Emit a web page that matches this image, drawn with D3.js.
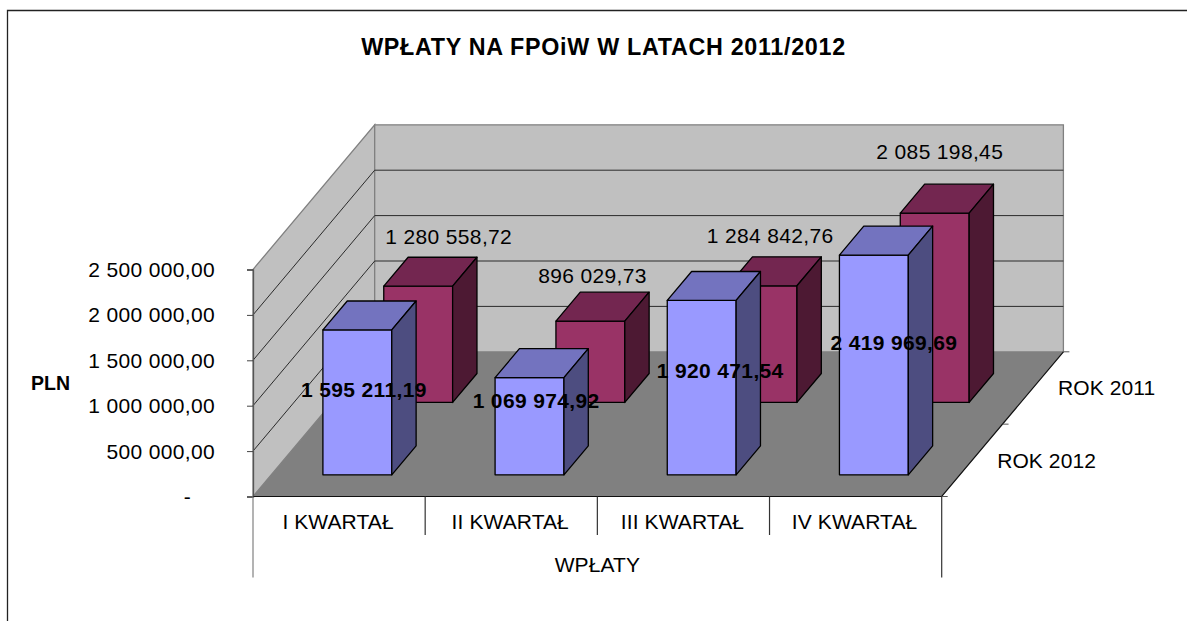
<!DOCTYPE html>
<html>
<head>
<meta charset="utf-8">
<script src="https://cdn.jsdelivr.net/npm/d3@7"></script>
<style>
  html, body { margin: 0; padding: 0; background: #fff; }
  svg { display: block; }
  text { font-family: "Liberation Sans", Arial, sans-serif; fill: #000; }
</style>
</head>
<body>
<svg id="viz-container" width="1187" height="621"></svg>
<script>
var quarters = ["I KWARTAŁ", "II KWARTAŁ", "III KWARTAŁ", "IV KWARTAŁ"];
var years = ["ROK 2012", "ROK 2011"];
var values2012 = [1595211.19, 1069974.92, 1920471.54, 2419969.69];
var values2011 = [1280558.72, 896029.73, 1284842.76, 2085198.45];
var yTicks = [0, 500000, 1000000, 1500000, 2000000, 2500000];

var svg = d3.select("#viz-container");

// floor corner, plot size and how far the depth axis runs
var x0 = 253, y0 = 496.5, plotW = 688.7, plotH = 227, depthX = 121.7, depthY = 144.7;

var x = d3.scaleBand().domain(quarters).range([0, plotW]).paddingInner(0.6).paddingOuter(0.3);
var y = d3.scaleLinear().domain([0, 2500000]).range([0, plotH]);
var z = d3.scaleBand().domain(years).range([0, 1]).paddingInner(0.6).paddingOuter(0.3);

var fmt = d3.formatLocale({decimal: ",", thousands: " ", grouping: [3], currency: ["", ""]}).format(",.2f");

// px along x, value height in px, depth 0..1
function pt(px, py, d) {
  return [x0 + px + d * depthX, y0 - py - d * depthY];
}
function poly(points) {
  return "M" + points.map(function(p) { return p.join(","); }).join("L") + "Z";
}

// outer chart border, runs off the page on the right and bottom
svg.append("path")
  .attr("d", "M7.5,640V10.5H1200")
  .attr("fill", "none")
  .attr("stroke", "#222")
  .attr("stroke-width", 1.3);

// walls and floor
var walls = svg.append("g").attr("id", "walls");
walls.append("path")
  .attr("d", poly([pt(0, 0, 0), pt(0, plotH, 0), pt(0, plotH, 1), pt(0, 0, 1)]))
  .attr("fill", "#c0c0c0").attr("stroke", "#808080").attr("stroke-width", 1.3);
walls.append("path")
  .attr("d", poly([pt(0, 0, 1), pt(0, plotH, 1), pt(plotW, plotH, 1), pt(plotW, 0, 1)]))
  .attr("fill", "#c0c0c0").attr("stroke", "#808080").attr("stroke-width", 1.3);
walls.append("path")
  .attr("d", poly([pt(0, 0, 0), pt(0, 0, 1), pt(plotW, 0, 1), pt(plotW, 0, 0)]))
  .attr("fill", "#808080");

// gridlines on both walls
walls.selectAll(".grid")
  .data(yTicks.slice(1, -1))
 .enter().append("path")
  .attr("class", "grid")
  .attr("fill", "none")
  .attr("stroke", "#2a2a2a")
  .attr("stroke-width", 1)
  .attr("d", function(d) {
    var a = pt(0, y(d), 0), b = pt(0, y(d), 1), c = pt(plotW, y(d), 1);
    return "M" + a + "L" + b + "L" + c;
  });

// value axis
var yAxis = svg.append("g")
  .attr("transform", "translate(" + x0 + "," + y0 + ")")
  .call(d3.axisLeft(d3.scaleLinear().domain(y.domain()).range([0, -plotH]))
    .tickValues(yTicks)
    .tickSize(6)
    .tickPadding(32)
    .tickFormat(function(d) { return d === 0 ? "-" : fmt(d); }));
yAxis.select(".domain").attr("stroke", "#555").attr("stroke-width", 1.3);
yAxis.selectAll(".tick line").attr("stroke", "#444");
yAxis.selectAll(".tick text")
  .style("font-size", "21px")
  .style("letter-spacing", "0.35px")
  .attr("dy", "0.33em");
yAxis.selectAll(".tick text").filter(function(d) { return d === 0; })
  .attr("x", -62);

// floor front edge and depth axis
svg.append("path")
  .attr("d", "M" + pt(0, 0, 0) + "L" + pt(plotW, 0, 0) + "L" + pt(plotW, 0, 1))
  .attr("fill", "none").attr("stroke", "#111").attr("stroke-width", 1.2);
svg.selectAll(".depth-tick")
  .data([0, 0.5, 1])
 .enter().append("path")
  .attr("class", "depth-tick")
  .attr("stroke", "#555")
  .attr("d", function(d) {
    var p = pt(plotW, 0, d);
    return "M" + p + "L" + [p[0] + 6, p[1]];
  });
svg.selectAll(".depth-label")
  .data(years)
 .enter().append("text")
  .attr("class", "depth-label")
  .attr("font-size", 21)
  .attr("letter-spacing", 0.1)
  .attr("dy", "0.35em")
  .attr("x", function(d) { return pt(plotW, 0, z(d) + z.bandwidth() / 2)[0] + 25; })
  .attr("y", function(d) { return pt(plotW, 0, z(d) + z.bandwidth() / 2)[1]; })
  .text(function(d) { return d; });

// category axis: dividers sit on the band edges
var step = x.step();
svg.selectAll(".divider")
  .data(d3.range(quarters.length + 1))
 .enter().append("line")
  .attr("class", "divider")
  .attr("x1", function(i) { return x0 + i * step; })
  .attr("x2", function(i) { return x0 + i * step; })
  .attr("y1", y0)
  .attr("y2", function(i) { return (i === 0 || i === quarters.length) ? 577.5 : 535; })
  .attr("stroke", function(i) { return i === 0 ? "#808080" : "#333"; })
  .attr("stroke-width", 1.2);
svg.selectAll(".quarter")
  .data(quarters)
 .enter().append("text")
  .attr("class", "quarter")
  .attr("text-anchor", "middle")
  .attr("font-size", 21)
  .attr("letter-spacing", 0.1)
  .attr("x", function(d) { return x0 + x(d) + x.bandwidth() / 2 - 1; })
  .attr("y", 529)
  .text(function(d) { return d; });
svg.append("text")
  .attr("text-anchor", "middle")
  .attr("font-size", 21)
  .attr("letter-spacing", 0.1)
  .attr("x", x0 + plotW / 2)
  .attr("y", 571.5)
  .text("WPŁATY");

// bars, back row first
var series = [
  {name: "ROK 2011", values: values2011, front: "#993366", top: "#732650", side: "#4d1933"},
  {name: "ROK 2012", values: values2012, front: "#9999ff", top: "#7373bf", side: "#4d4d80"}
];
var bars = svg.append("g").attr("id", "bars");
series.forEach(function(s) {
  var zA = z(s.name), zB = zA + z.bandwidth();
  var g = bars.selectAll(null)
    .data(quarters.map(function(q, i) { return {q: q, v: s.values[i]}; }))
   .enter().append("g");
  function face(fill, corners) {
    g.append("path")
      .attr("fill", fill)
      .attr("stroke", "#000")
      .attr("stroke-width", 1.3)
      .attr("stroke-linejoin", "round")
      .attr("d", function(d) { return poly(corners(x(d.q), x(d.q) + x.bandwidth(), y(d.v))); });
  }
  face(s.front, function(l, r, h) { return [pt(l, 0, zA), pt(l, h, zA), pt(r, h, zA), pt(r, 0, zA)]; });
  face(s.top, function(l, r, h) { return [pt(l, h, zA), pt(l, h, zB), pt(r, h, zB), pt(r, h, zA)]; });
  face(s.side, function(l, r, h) { return [pt(r, 0, zA), pt(r, h, zA), pt(r, h, zB), pt(r, 0, zB)]; });
});

// data labels were hand placed in the original, nudged from the bar's top left corner
var nudge2011 = [[65, -50], [36.5, -45], [42, -50], [39.5, -61]];
var nudge2012 = [[41, 60], [41, 23], [53, 70], [54.5, 88]];
function addLabels(name, values, nudge, weight) {
  svg.selectAll(null)
    .data(values)
   .enter().append("text")
    .attr("text-anchor", "middle")
    .attr("dy", "0.35em")
    .attr("font-size", 21)
    .attr("font-weight", weight)
    .attr("letter-spacing", 0.35)
    .attr("x", function(d, i) { return pt(x(quarters[i]), y(d), z(name))[0] + nudge[i][0]; })
    .attr("y", function(d, i) { return pt(x(quarters[i]), y(d), z(name))[1] + nudge[i][1]; })
    .text(function(d) { return fmt(d); });
}
addLabels("ROK 2011", values2011, nudge2011, "normal");
addLabels("ROK 2012", values2012, nudge2012, "bold");

// titles
svg.append("text")
  .attr("text-anchor", "middle")
  .attr("x", 603.5)
  .attr("y", 54.5)
  .attr("font-size", 23.3)
  .attr("font-weight", "bold")
  .attr("letter-spacing", 0.7)
  .text("WPŁATY NA FPOiW W LATACH 2011/2012");
svg.append("text")
  .attr("x", 31)
  .attr("y", 390)
  .attr("font-size", 19.5)
  .attr("font-weight", "bold")
  .text("PLN");
</script>
</body>
</html>
